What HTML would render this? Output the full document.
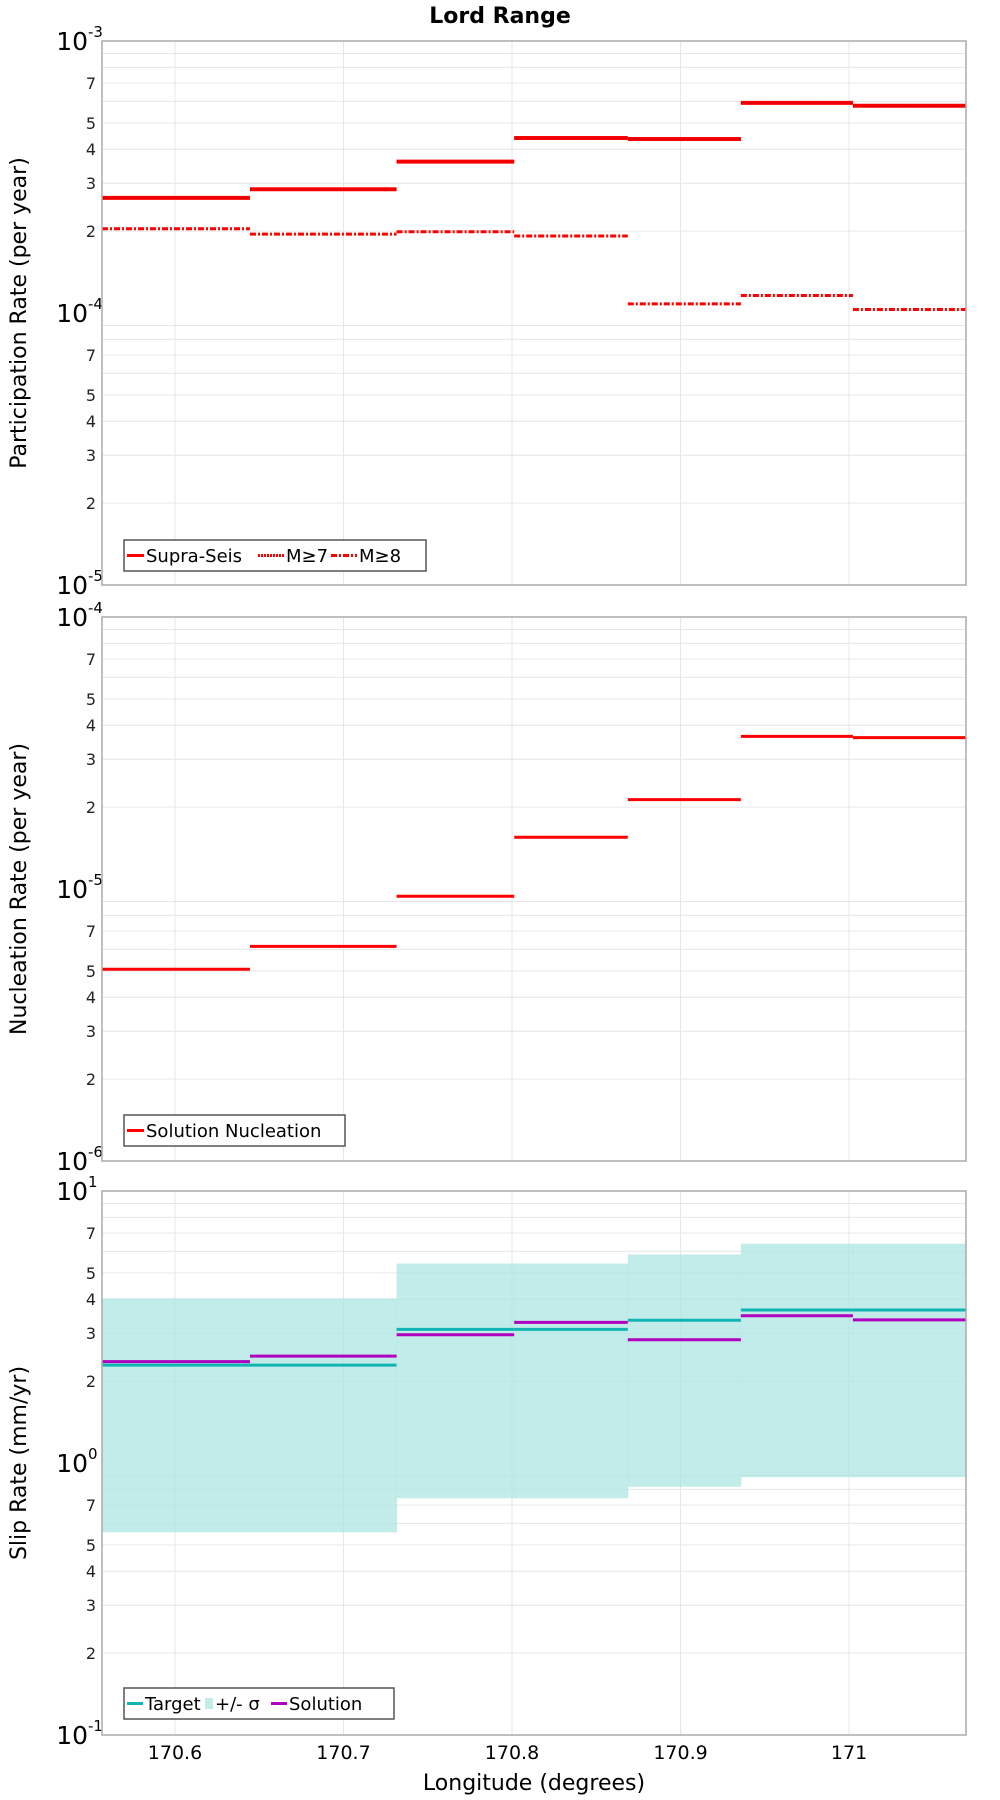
<!DOCTYPE html>
<html><head><meta charset="utf-8"><style>
body{margin:0;background:#fff;}
svg{display:block;font-family:"DejaVu Sans","Liberation Sans",sans-serif;}
</style></head><body>
<svg id="chart" width="1000" height="1800" viewBox="0 0 1000 1800" xmlns="http://www.w3.org/2000/svg">
<text x="500" y="23" text-anchor="middle" font-size="22" font-weight="bold">Lord Range</text>
</svg>
<script>
const edges = [170.5567, 170.6445, 170.7315, 170.8013, 170.8687, 170.9358, 171.0023, 171.0694];
const xTicks = [170.6, 170.7, 170.8, 170.9, 171.0];
const xTickLabels = ["170.6", "170.7", "170.8", "170.9", "171"];
const supraSeis = [2.65e-4, 2.85e-4, 3.6e-4, 4.4e-4, 4.36e-4, 5.92e-4, 5.78e-4];
const m7 = [2.65e-4, 2.85e-4, 3.6e-4, 4.4e-4, 4.36e-4, 5.92e-4, 5.78e-4];
const m8 = [2.04e-4, 1.95e-4, 1.99e-4, 1.92e-4, 1.08e-4, 1.16e-4, 1.03e-4];
const nucleation = [5.07e-6, 6.15e-6, 9.4e-6, 1.55e-5, 2.13e-5, 3.64e-5, 3.6e-5];
const target = [2.29, 2.29, 3.10, 3.10, 3.35, 3.65, 3.65];
const solution = [2.36, 2.47, 2.96, 3.29, 2.84, 3.48, 3.36];
const sigmaHigh = [4.03, 4.03, 5.41, 5.41, 5.84, 6.40, 6.40];
const sigmaLow = [0.556, 0.556, 0.742, 0.742, 0.818, 0.887, 0.887];

const NS = "http://www.w3.org/2000/svg";
const svg = document.getElementById('chart');
const L = 102, R = 966;
const xmin = 170.5567, xmax = 171.0694;
function xs(v){ return L + (v - xmin) / (xmax - xmin) * (R - L); }
function mk(tag, attrs, parent){
  const e = document.createElementNS(NS, tag);
  for (const k in attrs) e.setAttribute(k, attrs[k]);
  (parent || svg).appendChild(e);
  return e;
}
function panel(name, top, bot, decMin, decMax, ylabel){
  const g = mk('g', {});
  
  
  const ys = v => bot - (Math.log10(v) - decMin) / (decMax - decMin) * (bot - top);
  for (let d = decMin; d < decMax; d++) {
    for (let m = 2; m <= 9; m++) {
      const y = ys(m * Math.pow(10, d));
      mk('line', {x1:L, x2:R, y1:y, y2:y, stroke:'#e6e6e6', 'stroke-width':1}, g);
    }
  }
  xTicks.forEach(t => { const x = xs(t); mk('line', {x1:x, x2:x, y1:top, y2:bot, stroke:'#e6e6e6', 'stroke-width':1}, g); });
  for (let d = decMin; d <= decMax; d++) {
    const y = ys(Math.pow(10, d));
    const t = mk('text', {x:88, y:y + 9, 'text-anchor':'end', 'font-size':25}, g);
    
    
    t.textContent = '10';
    const s = mk('text', {x:88, y:y - 4, 'font-size':15}, g);
    s.textContent = String(d);
    if (d < decMax) {
      [2,3,4,5,7].forEach(m => {
        const yy = ys(m * Math.pow(10, d));
        const tt = mk('text', {x:96, y:yy + 6, 'text-anchor':'end', 'font-size':16, fill:'#222'}, g);
        
        
        tt.textContent = String(m);
      });
    }
  }
  const yl = mk('text', {transform:`translate(26,${(top+bot)/2}) rotate(-90)`, 'text-anchor':'middle', 'font-size':22}, g);
  
  
  yl.textContent = ylabel;
  return {g, ys, top, bot};
}
function steps(p, vals, color, dash, name, width){
  vals.forEach((v, i) => {
    const y = p.ys(v);
    const a = {x1:xs(edges[i]), x2:xs(edges[i+1]), y1:y, y2:y, stroke:color, 'stroke-width':width||3};
    if (dash) a['stroke-dasharray'] = dash;
    const l = mk('line', a, p.g);
    
    
  });
}
function frame(p){
  const r = mk('rect', {x:L, y:p.top, width:R-L, height:p.bot-p.top, fill:'none', stroke:'#aaa', 'stroke-width':1.5}, p.g);
  
  
}
function legend(p, x, y, w, items){
  const lg = mk('g', {}, p.g);
  
  
  mk('rect', {x:x, y:y, width:w, height:31, fill:'#fff', stroke:'#555', 'stroke-width':1.5}, lg);
  let cx = x + 3;
  items.forEach(it => {
    if (it.box) mk('rect', {x:cx, y:y+10, width:8, height:11, fill:it.color}, lg);
    else { const a = {x1:cx, x2:cx+(it.w||16), y1:y+15.5, y2:y+15.5, stroke:it.color, 'stroke-width':3}; if (it.dash) a['stroke-dasharray']=it.dash; mk('line', a, lg); }
    cx += (it.box ? 10 : (it.w||16) + 2);
    const t = mk('text', {x:cx, y:y+22, 'font-size':18}, lg);
    
    
    t.textContent = it.label;
    cx += it.tw;
  });
}

const p1 = panel('participation', 41, 585, -5, -3, 'Participation Rate (per year)');
steps(p1, supraSeis, '#ff0000', null, 'supra-seis', 4);
steps(p1, m7, '#e00000', '2,1', 'm7', 2);
steps(p1, m8, '#ff0000', '6,2,2,2', 'm8', 3);
frame(p1);
legend(p1, 124, 540, 302, [
  {color:'#f00', label:'Supra-Seis', tw:112, w:17},
  {color:'#f00', dash:'2,1', label:'M≥7', tw:45, w:26},
  {color:'#f00', dash:'6,2,2,2', label:'M≥8', tw:45, w:26}
]);

const p2 = panel('nucleation', 617, 1161, -6, -4, 'Nucleation Rate (per year)');
steps(p2, nucleation, '#ff0000', null, 'solution-nucleation');
frame(p2);
legend(p2, 124, 1115, 221, [{color:'#f00', label:'Solution Nucleation', tw:190, w:17}]);

const p3 = panel('slip-rate', 1191, 1735, -1, 1, 'Slip Rate (mm/yr)');
sigmaHigh.forEach((v, i) => {
  const y1 = p3.ys(v), y2 = p3.ys(sigmaLow[i]);
  const r = mk('rect', {x:xs(edges[i]), y:y1, width:xs(edges[i+1]) - xs(edges[i]) + 0.5, height:y2 - y1, fill:'#aee6e3', 'fill-opacity':0.75}, p3.g);
  
  
});
steps(p3, target, '#10b5b3', null, 'target');
steps(p3, solution, '#b000c0', null, 'solution');
frame(p3);
legend(p3, 124, 1688, 270, [
  {color:'#10b5b3', label:'Target', tw:60, w:16},
  {color:'#c2ecea', box:true, label:'+/- σ', tw:56},
  {color:'#b000c0', label:'Solution', tw:80, w:16}
]);

xTicks.forEach((t, i) => {
  const e = mk('text', {x:xs(t), y:1759, 'text-anchor':'middle', 'font-size':19});
  
  
  e.textContent = xTickLabels[i];
});
const xt = mk('text', {x:534, y:1790, 'text-anchor':'middle', 'font-size':22});


xt.textContent = 'Longitude (degrees)';
</script>
</body></html>
